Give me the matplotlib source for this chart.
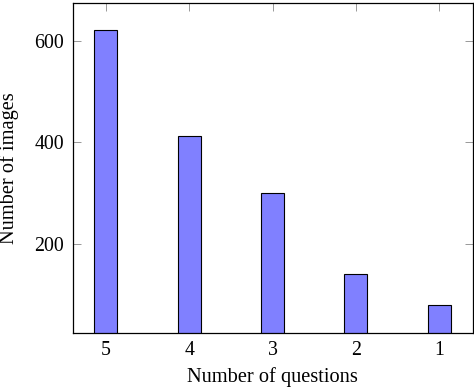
import matplotlib
matplotlib.use("Agg")
import matplotlib.pyplot as plt

categories = ["5", "4", "3", "2", "1"]
values = [622, 412, 300, 141, 79]

plt.rcParams['font.family'] = ['Liberation Serif', 'DejaVu Serif']
plt.rcParams['mathtext.fontset'] = 'stix'

fig = plt.figure(figsize=(4.74, 3.88), dpi=100)
ax = fig.add_axes([0.153, 0.1425, 0.844, 0.8505])

x = list(range(len(categories)))
ax.bar(x, values, width=0.276, color='#8080FF', edgecolor='black', linewidth=0.8, zorder=3)

ax.set_xlim(-0.4, 4.4)
ax.set_ylim(25, 675)
ax.set_xticks(x)
ax.set_xticklabels(categories)
ax.set_yticks([200, 400, 600])

ax.tick_params(axis='both', which='both', direction='in', length=6, width=0.6,
               color='#888888', labelsize=14.3, top=True, right=True, pad=6)
for s in ax.spines.values():
    s.set_linewidth(0.9)
    s.set_zorder(4)

ax.set_xlabel("Number of questions", fontsize=14.7, labelpad=5)
ax.set_ylabel("Number of images", fontsize=14.7, labelpad=11)

fig.savefig("out.png", dpi=100)
